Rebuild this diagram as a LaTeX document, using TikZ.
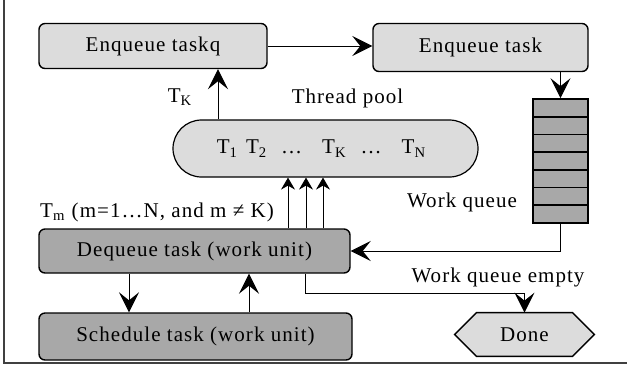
\documentclass[tikz,border=0pt]{standalone}
\usepackage{fontspec}
\setmainfont{Liberation Serif}[LetterSpace=5]
\usetikzlibrary{shapes.misc, arrows.meta, positioning, backgrounds}
\definecolor{lightfill}{RGB}{220,220,220}
\definecolor{darkfill}{RGB}{168,168,168}

\begin{document}
\begin{tikzpicture}[
  x=0.5pt, y=-0.5pt,
  font=\fontsize{10.5}{12}\selectfont,
  lbox/.style={rectangle, draw, line width=0.7pt, fill=lightfill, rounded corners=3pt, inner sep=0pt},
  dbox/.style={lbox, fill=darkfill},
  pool/.style={rounded rectangle, draw, line width=0.6pt, fill=lightfill, minimum width=152.5pt, minimum height=28.5pt, inner sep=0pt},
  qcell/.style={rectangle, draw, line width=0.8pt, fill=darkfill, minimum width=27.5pt, minimum height=8.85pt, inner sep=0pt},
  arr/.style={-{Stealth[length=10pt, width=10pt, inset=4pt]}, line width=0.5pt},
  sarr/.style={-{Stealth[length=6pt, width=7pt, inset=2pt]}, line width=0.5pt},
  lbl/.style={inner sep=1pt},
]
\useasboundingbox (0,0) rectangle (627,372);
\draw[line width=0.75pt, black!75] (4,0) |- (627,363);

\node[lbox, minimum width=114pt, minimum height=22.5pt]   (taskq)    at (153,46)      {Enqueue taskq};
\node[lbox, minimum width=107.5pt, minimum height=24pt]   (task)     at (480.5,47.5)  {Enqueue task};
\node[pool]                                                (threads)  at (325.5,148.5) {\hspace*{-4pt}T\textsubscript{1}\hspace{4pt}T\textsubscript{2}\hspace{7pt}…\hspace{10pt}T\textsubscript{K}\hspace{7pt}…\hspace{10pt}T\textsubscript{N}};
\node[dbox, minimum width=155.5pt, minimum height=22pt]   (dequeue)  at (194.5,251)   {Dequeue task (work unit)};
\node[dbox, minimum width=156.5pt, minimum height=23.5pt] (schedule) at (195.5,336.5) {Schedule task (work unit)};
\node[minimum width=69.5pt, minimum height=21.5pt, inner sep=0pt] (done) at (524.5,334.5) {Done};
\begin{scope}[on background layer]
  \draw[line width=0.7pt, fill=lightfill] (done.west) -- ([xshift=11pt]done.north west) -- ([xshift=-11pt]done.north east)
    -- (done.east) -- ([xshift=-11pt]done.south east) -- ([xshift=11pt]done.south west) -- cycle;
\end{scope}

% work queue
\foreach \i in {0,...,6}
  \node[qcell] (c\i) at (560.5,107.85+\i*17.7) {};

\node[lbl] (tklbl)    at (180,97)  {T\textsubscript{K}};
\node[lbl] (poollbl)  at (347.5,98) {Thread pool};
\node[lbl] (tmlbl)    at (157,212) {T\textsubscript{m} (m=1…N, and m ≠ K)};
\node[lbl] (wqlbl)    at (462,202) {Work queue};
\node[lbl] (emptylbl) at (498,277) {Work queue empty};

\draw[arr] (taskq.east) -- (taskq.east -| task.west);
\draw[arr] (task.south -| c0.north) -- (c0.north);
\draw[arr] (threads.north -| 218,0) -- (taskq.south -| 218,0);
\foreach \xx in {288,306,323}
  \draw[sarr] (dequeue.north -| \xx,0) -- (threads.south -| \xx,0);
\draw[arr] (dequeue.south -| 129,0) -- (schedule.north -| 129,0);
\draw[arr] (schedule.north -| 249,0) -- (dequeue.south -| 249,0);
\draw[arr] (c6.south) |- (dequeue.east);
\draw[arr] (dequeue.south -| 305,0) -- ++(0,20) -| (done.north);
\end{tikzpicture}
\end{document}
